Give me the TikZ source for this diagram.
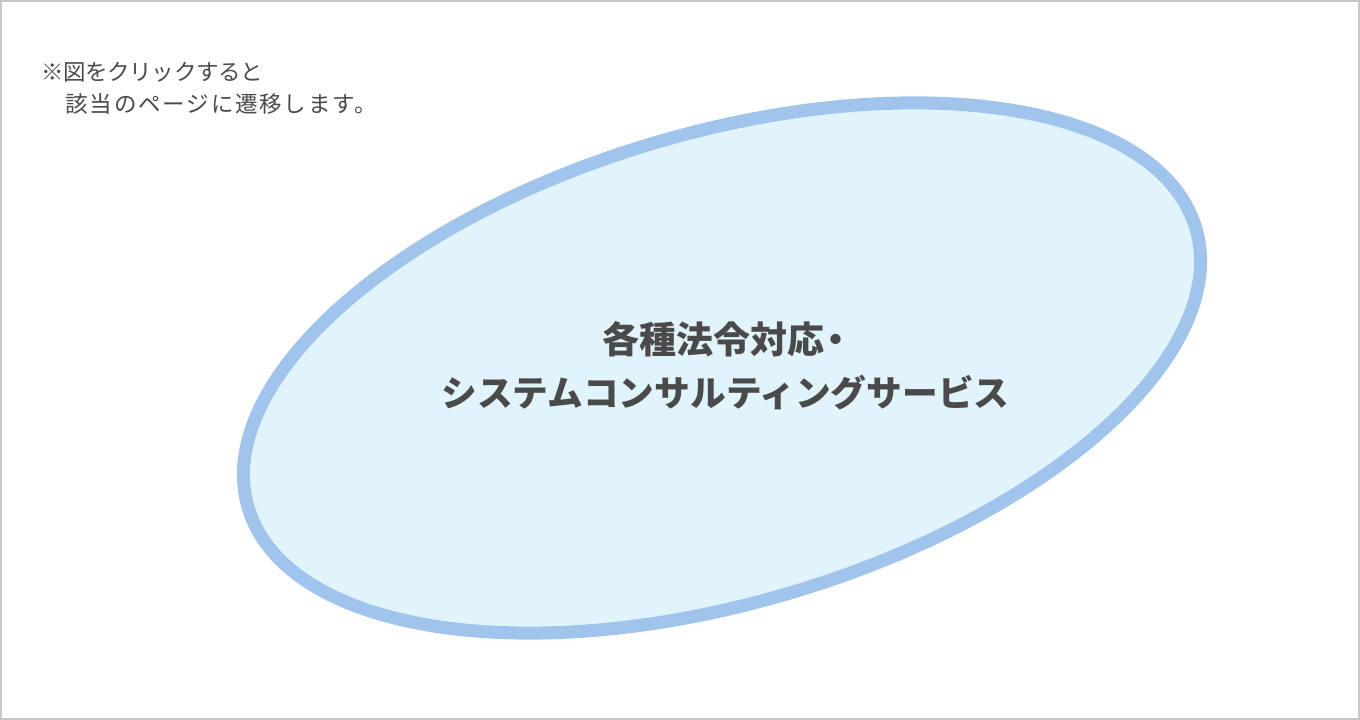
\documentclass[tikz,border=0pt]{standalone}
\usepackage{fontspec}
\newfontfamily\jpfont{Noto Sans CJK JP}
\newfontfamily\jpnoteA{Noto Sans CJK JP}[LetterSpace=-2]
\newfontfamily\jpnoteB{Noto Sans CJK JP}[LetterSpace=8]
\definecolor{framegray}{HTML}{C8C8C8}
\definecolor{ringblue}{HTML}{A0C4EC}
\definecolor{fillblue}{HTML}{E1F4FB}
\definecolor{textgray}{HTML}{4A4A4A}
\tikzset{
  frame/.style={draw=framegray, line width=2pt},
  ring/.style={draw=ringblue, fill=fillblue, line width=13pt},
  titletext/.style={text=textgray, inner sep=0pt, font={\jpfont\bfseries}},
  notetext/.style={text=textgray, inner sep=0pt, anchor=base west}
}
\begin{document}
\begin{tikzpicture}[x=1pt,y=1pt]
\useasboundingbox (0,0) rectangle (1360,720);
\fill[white] (0,0) rectangle (1360,720);
\draw[frame] (1,1) rectangle (1359,719);
\draw[ring, rotate around={16.4:(722,352)}] (722,352) ellipse [x radius=494, y radius=235];
\node[titletext, anchor=base west] (title1) at (602,366) {\fontsize{37}{37}\selectfont 各種法令対応\kern-7pt ・};
\node[titletext, anchor=base] (title2) at (725.5,313.4) {\fontsize{35.7}{36}\selectfont システムコンサルティングサービス};
\node[notetext, font={\jpnoteA\fontsize{22.5}{32}\selectfont}] (note1) at (41.5,639.4) {※図をクリックすると};
\node[notetext, font={\jpnoteB\fontsize{22.5}{32}\selectfont}] (note2) at (65.5,607.4) {該当のページに遷移します。};
\end{tikzpicture}
\end{document}
